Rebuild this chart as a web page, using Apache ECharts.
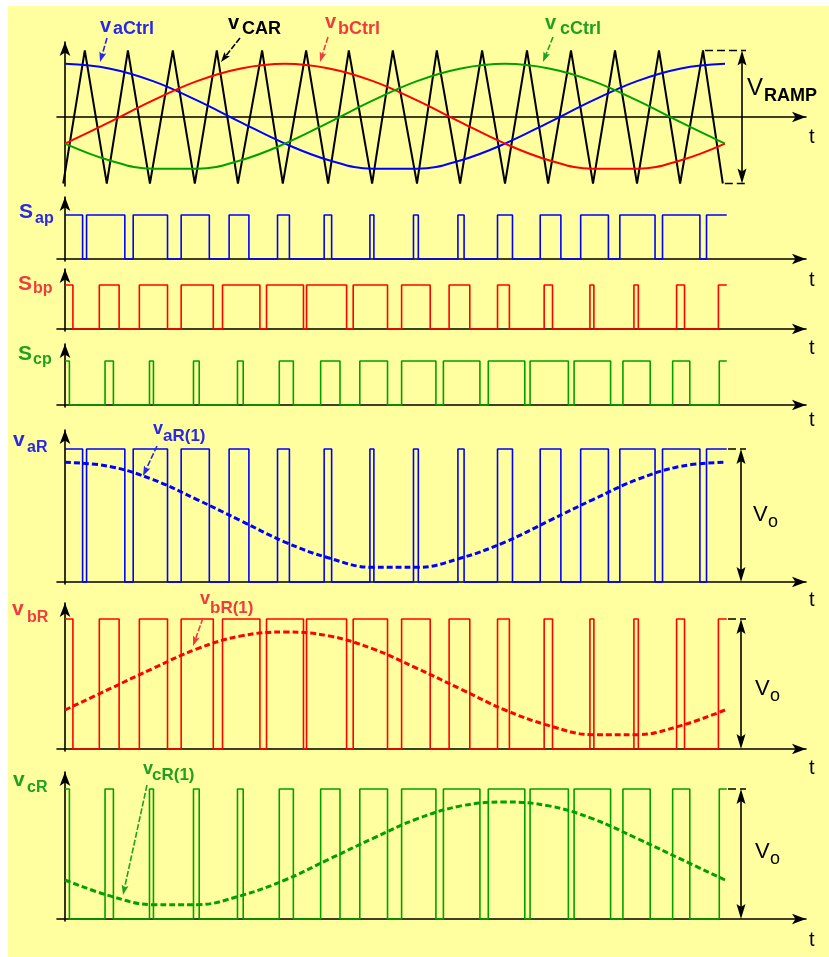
<!DOCTYPE html>
<html><head><meta charset="utf-8">
<script src="https://cdn.jsdelivr.net/npm/echarts@6/dist/echarts.min.js"></script>
<style>
html,body{margin:0;padding:0;background:#ffffff;overflow:hidden;}
#bg{position:absolute;left:8px;top:6px;width:821px;height:951px;background:#FFFFA0;}
#c{position:absolute;left:0;top:0;width:829px;height:957px;}
</style></head><body>
<div id="bg"></div><div id="c"></div>
<script>
// ---------------- DATA (t in carrier periods) ----------------
const carrierT = [-0.04,0.45,0.95,1.43,1.93,2.45,2.95,3.45,3.93,4.48,4.95,5.48,5.98,6.45,6.98,7.45,8.00,8.45,8.98,9.48,10.00,10.50,10.98,11.50,12.00,12.50,13.00,13.50,13.98,14.50,14.95];
const carrierV = [-1,1,-1,1,-1,1,-1,1,-1,1,-1,1,-1,1,-1,1,-1,1,-1,1,-1,1,-1,1,-1,1,-1,1,-1,1,-1];
const ctrlT  = [0,1,2,3,4,5,6,7,8,9,10,11,12,13,14,15];
const vaCtrl = [0.80,0.73,0.54,0.25,-0.08,-0.40,-0.65,-0.78,-0.78,-0.65,-0.40,-0.08,0.25,0.54,0.73,0.80];
const vbCtrl = [-0.40,-0.08,0.25,0.54,0.73,0.80,0.73,0.54,0.25,-0.08,-0.40,-0.65,-0.78,-0.78,-0.65,-0.40];
const vcCtrl = [-0.40,-0.65,-0.78,-0.78,-0.65,-0.40,-0.08,0.25,0.54,0.73,0.80,0.73,0.54,0.25,-0.08,-0.40];
// switch-on intervals [on, off]
const sapOn = [[0,0.40],[0.49,1.36],[1.55,2.33],[2.64,3.28],[3.73,4.18],[4.83,5.10],[5.89,6.06],[6.93,7.02],[7.92,8.03],[8.93,9.07],[9.83,10.17],[10.80,11.27],[11.72,12.35],[12.61,13.41],[13.58,14.43],[14.58,15.04]];
const sbpOn = [[0,0.18],[0.78,1.23],[1.69,2.33],[2.64,3.37],[3.58,4.43],[4.58,5.42],[5.49,6.40],[6.55,7.33],[7.65,8.30],[8.73,9.20],[9.83,10.10],[10.89,11.08],[11.93,12.02],[12.93,13.03],[13.90,14.08],[14.85,15.04]];
const scpOn = [[0,0.10],[0.91,1.10],[1.92,2.01],[2.92,3.05],[3.92,4.05],[4.87,5.19],[5.81,6.25],[6.70,7.33],[7.65,8.43],[8.60,9.43],[9.62,10.45],[10.57,11.44],[11.57,12.40],[12.68,13.30],[13.81,14.20],[14.87,15.04]];
// fundamentals (fraction of Vo)
const fundT = [0,1,2,3,4,5,6,7,8,9,10,11,12,13,14,15];
const vaR1 = [0.90,0.87,0.77,0.62,0.46,0.30,0.18,0.11,0.11,0.18,0.30,0.46,0.62,0.77,0.87,0.90];
const vbR1 = [0.30,0.46,0.62,0.77,0.87,0.90,0.87,0.77,0.62,0.46,0.30,0.18,0.11,0.11,0.18,0.30];
const vcR1 = [0.30,0.18,0.11,0.11,0.18,0.30,0.46,0.62,0.77,0.87,0.90,0.87,0.77,0.62,0.46,0.30];

// ---------------- LAYOUT ----------------
const panels = [
  {top:35,  axis:117, unit:66.5, below:69},
  {top:190, axis:259, unit:44,   below:2},
  {top:262, axis:329, unit:44,   below:2},
  {top:337, axis:405, unit:44,   below:2},
  {top:423, axis:582, unit:133,  below:2},
  {top:596, axis:749, unit:130,  below:2},
  {top:765, axis:919, unit:130,  below:2}
];
const X0 = 57, X1 = 806, PX0 = 65, UX = 44;
const BLUE='#0000FF', RED='#FF0000', GREEN='#00A000';
const BLUE_T='#2828E6', RED_T='#F03C3C', GREEN_T='#20A020';
const FONT='"Liberation Sans", Arial, sans-serif';

function pulses(iv){
  const pts=[];
  iv.forEach((p,i)=>{
    if(i>0 || p[0]>0) pts.push([p[0],0]);
    pts.push([p[0],1]); pts.push([p[1],1]);
    if(i<iv.length-1) pts.push([p[1],0]);
  });
  return pts;
}
function zip(t,v){ return t.map((x,i)=>[x,v[i]]); }

const axisLine = {show:true,onZero:true,symbol:['none','arrow'],symbolSize:[8,14],lineStyle:{color:'#000',width:1.6}};
const grid = panels.map(p=>({left:X0,width:X1-X0,top:p.top+7,height:p.axis+p.below-(p.top+7)}));
const xAxis = panels.map((p,i)=>({type:'value',gridIndex:i,min:(X0-PX0)/UX,max:(X1-PX0)/UX,
  axisLine:axisLine,axisTick:{show:false},axisLabel:{show:false},splitLine:{show:false}}));
const yAxis = panels.map((p,i)=>({type:'value',gridIndex:i,min:-p.below/p.unit,max:(p.axis-(p.top+7))/p.unit,
  axisLine:axisLine,axisTick:{show:false},axisLabel:{show:false},splitLine:{show:false}}));

function line(i,data,color,width,extra){
  return Object.assign({type:'line',xAxisIndex:i,yAxisIndex:i,data:data,showSymbol:false,symbol:'none',
    silent:true,lineStyle:{color:color,width:width},itemStyle:{color:color},z:3},extra||{});
}
const dashed = {type:[6,3],cap:'butt'};
const series = [
  line(0,zip(carrierT,carrierV),'#000',2),
  line(0,zip(ctrlT,vaCtrl),BLUE,2,{smooth:0.4}),
  line(0,zip(ctrlT,vbCtrl),RED,2,{smooth:0.4}),
  line(0,zip(ctrlT,vcCtrl),GREEN,2,{smooth:0.4}),
  line(1,pulses(sapOn),BLUE,1.6),
  line(2,pulses(sbpOn),RED,1.6),
  line(3,pulses(scpOn),GREEN,1.6),
  line(4,pulses(sapOn),BLUE,1.6),
  line(5,pulses(sbpOn),RED,1.6),
  line(6,pulses(scpOn),GREEN,1.6),
  line(4,zip(fundT,vaR1),BLUE,3,{smooth:0.4,lineStyle:Object.assign({color:BLUE,width:3},dashed),z:4}),
  line(5,zip(fundT,vbR1),RED,3,{smooth:0.4,lineStyle:Object.assign({color:RED,width:3},dashed),z:4}),
  line(6,zip(fundT,vcR1),GREEN,3,{smooth:0.4,lineStyle:Object.assign({color:GREEN,width:3},dashed),z:4})
];

const chart = echarts.init(document.getElementById('c'),null,{renderer:'canvas'});
chart.setOption({animation:false,backgroundColor:'transparent',grid:grid,xAxis:xAxis,yAxis:yAxis,series:series});

// ---------------- ANNOTATIONS ----------------
const G=[];
function txt(x,base,s,size,color,weight){
  G.push({type:'text',x:x,y:base-0.35*size,z:20,silent:true,
    style:{text:s,font:(weight||'normal')+' '+size+'px '+FONT,fill:color,
      align:'left',verticalAlign:'middle',textAlign:'left',textVerticalAlign:'middle'}});
}
function arrowHead(x1,y1,x2,y2,color,L,W){
  const d=Math.hypot(x2-x1,y2-y1), ux=(x2-x1)/d, uy=(y2-y1)/d;
  const bx=x2-ux*L, by=y2-uy*L, nx=-uy, ny=ux;
  G.push({type:'polygon',z:21,silent:true,shape:{points:[[x2,y2],[bx+nx*W,by+ny*W],[x2-ux*L*0.8,y2-uy*L*0.8],[bx-nx*W,by-ny*W]]},style:{fill:color}});
}
function pointer(x1,y1,x2,y2,color){
  const d=Math.hypot(x2-x1,y2-y1), ux=(x2-x1)/d, uy=(y2-y1)/d;
  G.push({type:'line',z:21,silent:true,shape:{x1:x1,y1:y1,x2:x2-ux*6,y2:y2-uy*6},style:{stroke:color,lineWidth:1.6,lineDash:[6,2]}});
  arrowHead(x1,y1,x2,y2,color,10,3.5);
}
function dbl(x,y1,y2){
  G.push({type:'line',z:21,silent:true,shape:{x1:x,y1:y1+8,x2:x,y2:y2-8},style:{stroke:'#000',lineWidth:1.6}});
  arrowHead(x,y2-20,x,y1,'#000',15,4.5);
  arrowHead(x,y1+20,x,y2,'#000',15,4.5);
}
function hdash(x1,x2,y){
  G.push({type:'line',z:21,silent:true,shape:{x1:x1,y1:y,x2:x2,y2:y},style:{stroke:'#000',lineWidth:1.6,lineDash:[8,4]}});
}

// V_RAMP
const pk = chart.convertToPixel({gridIndex:0},[carrierT[carrierT.length-2],1]);
const tr = chart.convertToPixel({gridIndex:0},[carrierT[carrierT.length-1],-1]);
hdash(pk[0]+2,746,pk[1]); hdash(tr[0]+2,746,tr[1]);
dbl(742,pk[1],tr[1]);
// Vo
[4,5,6].forEach(i=>{
  const a=chart.convertToPixel({gridIndex:i},[15,1]);
  const b=chart.convertToPixel({gridIndex:i},[15,0]);
  hdash(a[0]+3,746,a[1]);
  dbl(741,a[1],b[1]);
});

// labels
txt(100,33,'v',20,BLUE_T,'bold');  txt(113,35,'aCtrl',18,BLUE_T,'bold');
txt(228,30,'v',20,'#000','bold');  txt(242,35,'CAR',18,'#000','bold');
txt(325,29,'v',20,RED_T,'bold');   txt(338,35,'bCtrl',18,RED_T,'bold');
txt(545,30,'v',20,GREEN_T,'bold'); txt(560,35,'cCtrl',18,GREEN_T,'bold');
txt(747,97,'V',24,'#000','normal'); txt(764,102,'RAMP',18,'#000','bold');
txt(19,220,'S',21,BLUE_T,'bold');  txt(35,224,'ap',16,BLUE_T,'bold');
txt(18,292,'S',21,RED_T,'bold');   txt(33,294,'bp',16,RED_T,'bold');
txt(18,362,'S',21,GREEN_T,'bold'); txt(33,365,'cp',16,GREEN_T,'bold');
txt(13,448,'v',21,BLUE_T,'bold');  txt(27,453,'aR',16,BLUE_T,'bold');
txt(153,435,'v',18,BLUE_T,'bold'); txt(163,442,'aR(1)',17,BLUE_T,'bold');
txt(12,617,'v',21,RED_T,'bold');   txt(27,623,'bR',16,RED_T,'bold');
txt(200,605,'v',18,RED_T,'bold');  txt(210,614,'bR(1)',17,RED_T,'bold');
txt(13,788,'v',21,GREEN_T,'bold'); txt(27,793,'cR',16,GREEN_T,'bold');
txt(143,775,'v',18,GREEN_T,'bold');txt(152,781,'cR(1)',17,GREEN_T,'bold');
txt(753,523,'V',22,'#000','normal'); txt(768,528,'o',18,'#000','normal');
txt(755,697,'V',22,'#000','normal'); txt(770,702,'o',18,'#000','normal');
txt(755,860,'V',22,'#000','normal'); txt(770,865,'o',18,'#000','normal');
[144,287,355,427,607,775,947].forEach(b=>txt(809,b,'t',20,'#000','normal'));

// pointers
pointer(107,38,100,62,BLUE_T);
pointer(240,38,221,62,'#000');
pointer(328,37,320,62,RED_T);
pointer(553,37,543,62,GREEN_T);
pointer(157,446,143,476,BLUE_T);
pointer(203,618,193,646,RED_T);
pointer(147,785,123,895,GREEN_T);

chart.setOption({graphic:G});
</script>
</body></html>
